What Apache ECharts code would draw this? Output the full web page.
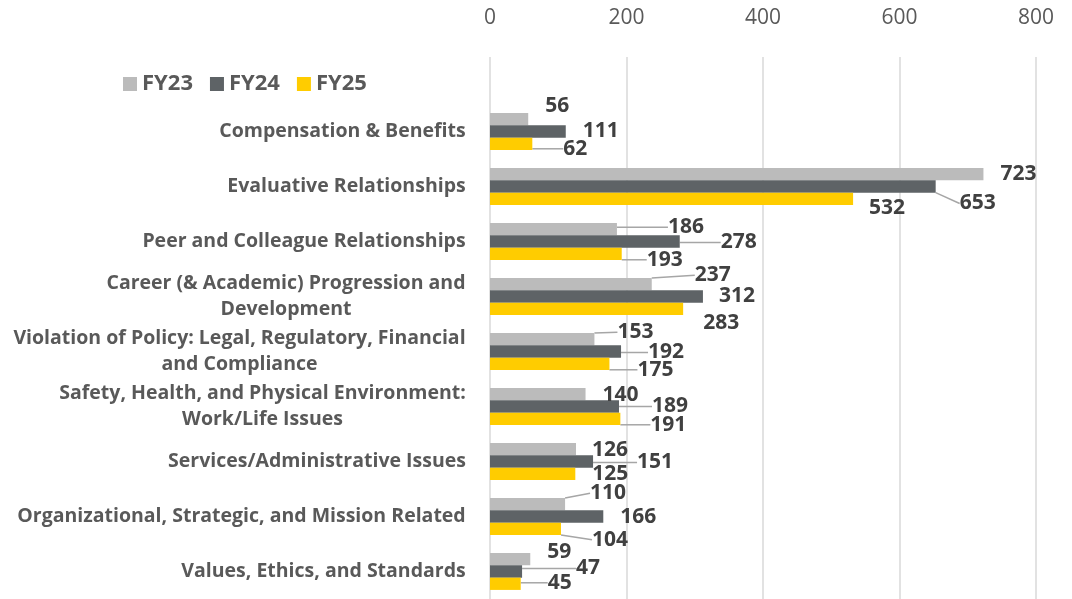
<!DOCTYPE html>
<html>
<head>
<meta charset="utf-8">
<script src="https://cdn.jsdelivr.net/npm/echarts@6/dist/echarts.min.js"></script>
<style>
  html, body { margin: 0; padding: 0; background: #fff; }
  #chart { width: 1072px; height: 599px; }
</style>
</head>
<body>
<div id="chart"></div>
<script>
const categories = [
  'Compensation & Benefits',
  'Evaluative Relationships',
  'Peer and Colleague Relationships',
  'Career (& Academic) Progression and\nDevelopment',
  'Violation of Policy: Legal, Regulatory, Financial\nand Compliance',
  'Safety, Health, and Physical Environment:\nWork/Life Issues',
  'Services/Administrative Issues',
  'Organizational, Strategic, and Mission Related',
  'Values, Ethics, and Standards'
]
const seriesNames = ['FY23', 'FY24', 'FY25']
const fy23 = [56, 723, 186, 237, 153, 140, 126, 110, 59]
const fy24 = [111, 653, 278, 312, 192, 189, 151, 166, 47]
const fy25 = [62, 532, 193, 283, 175, 191, 125, 104, 45]
const xTicks = [0, 200, 400, 600, 800]

// label nudges (dx, dy) copying the hand-moved Excel data labels
const labelNudge = [
  [[12, -13], [12, 0], [46, -2], [38, -9], [18, -7], [12, 1], [11, 1], [20, -11], [12, -7]],
  [[12, 0], [19, 17], [36, 1], [11, 0], [22, 1], [28, 0], [39, 1], [12, 1], [49, -3]],
  [[26, 5], [11, 9], [20, 6], [15, 14], [23, 6], [25, 6], [12, 0], [26, 11], [22, -1]]
]
// which labels keep a leader line
const leader = [
  [false, false, true, true, true, false, false, true, false],
  [false, true, true, false, true, true, true, false, true],
  [true, false, true, false, true, true, false, true, true]
]

const colors = ['#BBBBBB', '#5E6366', '#FFCC00']
const font = '"Open Sans", "Liberation Sans", sans-serif'
const catSize = 19.5

// centre the wrapped lines of a category label inside a right-aligned block
const ctx = document.createElement('canvas').getContext('2d')
ctx.font = 'bold ' + catSize + 'px ' + font
const rich = {}
categories.forEach((c, i) => {
  const w = Math.max(...c.split('\n').map(l => ctx.measureText(l).width))
  rich['c' + i] = {
    width: Math.ceil(w), align: 'center',
    fontSize: catSize, fontWeight: 'bold', fontFamily: font,
    color: '#595959', lineHeight: 26
  }
})

const allData = [fy23, fy24, fy25]
const series = seriesNames.map((name, s) => ({
  name: name,
  type: 'bar',
  xAxisIndex: 0,
  yAxisIndex: 0,
  barGap: '0%',
  barCategoryGap: '33%',
  itemStyle: { color: colors[s] },
  data: allData[s].map((v, i) => ({ value: v, labelLine: { show: leader[s][i] } })),
  label: {
    show: true,
    position: 'right',
    distance: 5,
    color: '#404040',
    fontSize: 21,
    fontWeight: 'bold',
    fontFamily: font
  },
  labelLine: { show: true, lineStyle: { color: '#A6A6A6', width: 1.5 } },
  labelLayout: p => ({ dx: labelNudge[s][p.dataIndex][0], dy: labelNudge[s][p.dataIndex][1] })
}))

const chart = echarts.init(document.getElementById('chart'))
chart.setOption({
  animation: false,
  color: colors,
  legend: {
    left: 118,
    top: 68,
    icon: 'rect',
    itemWidth: 14,
    itemHeight: 14,
    itemGap: 17,
    data: seriesNames,
    textStyle: { color: '#595959', fontSize: 22, fontWeight: 'bold', fontFamily: font }
  },
  grid: [
    { left: 490, right: 36, top: 104, bottom: 0 },
    { left: 490, right: 36, top: 57, height: 47 }
  ],
  xAxis: [
    {
      gridIndex: 0,
      type: 'value',
      min: xTicks[0],
      max: xTicks[xTicks.length - 1],
      interval: 200,
      axisLabel: { show: false },
      axisLine: { show: false },
      axisTick: { show: false },
      splitLine: { show: true, lineStyle: { color: '#D9D9D9', width: 1.5 } }
    },
    {
      gridIndex: 1,
      type: 'value',
      position: 'top',
      min: xTicks[0],
      max: xTicks[xTicks.length - 1],
      interval: 200,
      axisLabel: { color: '#595959', fontSize: 21, fontFamily: font, margin: 28 },
      axisLine: { show: false },
      axisTick: { show: false },
      splitLine: { show: true, lineStyle: { color: '#D9D9D9', width: 1.5 } }
    }
  ],
  yAxis: [
    {
      gridIndex: 0,
      type: 'category',
      inverse: true,
      data: categories,
      axisLine: { show: false },
      axisTick: { show: false },
      axisLabel: {
        margin: 24,
        formatter: (v, i) => v.split('\n').map(l => '{c' + i + '|' + l + '}').join('\n'),
        rich: rich
      }
    },
    { gridIndex: 1, type: 'value', show: false, min: 0, max: 1 }
  ],
  series: series
})
</script>
</body>
</html>
